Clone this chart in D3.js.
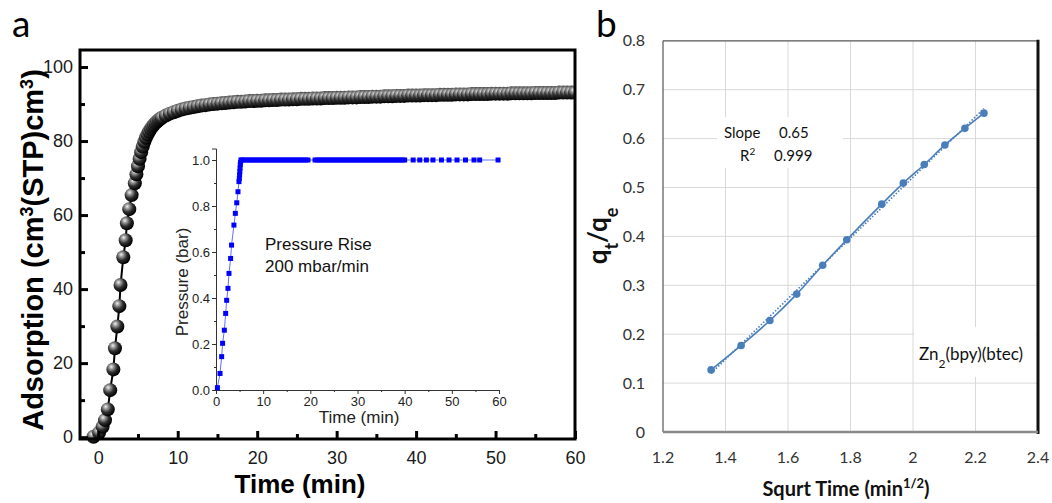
<!DOCTYPE html>
<html>
<head>
<meta charset="utf-8">
<script src="https://cdn.jsdelivr.net/npm/d3@7"></script>
<style>
  body { margin: 0; background: #fff; }
  svg { display: block; }
</style>
</head>
<body>
<svg width="1052" height="503"></svg>
<script>
// ---- panel a: adsorption kinetics (time in min, cm3(STP)/cm3)
const adsTime = [-0.6, 0.1, 0.55, 0.85, 1.2, 1.5, 1.9, 2.1, 2.4, 2.65, 2.8, 3.15, 3.45, 3.6, 3.9, 4.2,
  4.6, 4.8, 5.0, 5.2, 5.4, 5.6, 5.8, 6.0, 6.2, 6.4, 6.6, 6.8, 7.0, 7.2, 7.4, 7.6, 7.8, 8.0,
  8.5, 9, 9.5, 10, 10.5, 11, 11.5, 12, 12.5, 13, 13.5, 14, 14.5, 15, 15.5, 16, 16.5, 17, 17.5, 18,
  18.5, 19, 19.5, 20, 20.5, 21, 21.5, 22, 22.5, 23, 23.5, 24, 24.5, 25, 25.5, 26, 26.5, 27, 27.5,
  28, 28.5, 29, 29.5, 30, 30.5, 31, 31.5, 32, 32.5, 33, 33.5, 34, 34.5, 35, 35.5, 36, 36.5, 37,
  37.5, 38, 38.5, 39, 39.5, 40, 40.5, 41, 41.5, 42, 42.5, 43, 43.5, 44, 44.5, 45, 45.5, 46, 46.5,
  47, 47.5, 48, 48.5, 49, 49.5, 50, 50.5, 51, 51.5, 52, 52.5, 53, 53.5, 54, 54.5, 55, 55.5, 56,
  56.5, 57, 57.5, 58, 58.5, 59, 59.5, 60];
const adsValue = [0.1, 1.2, 2.8, 4.6, 7.5, 12.7, 18.3, 24, 29.9, 35.4, 41.1, 48.6, 53.2, 57.8, 61.6, 65.4,
  68.6, 71.0, 73.2, 75.2, 77.0, 78.5, 79.8, 80.9, 81.8, 82.6, 83.3, 83.9, 84.4, 84.9, 85.3, 85.7, 86.0, 86.3,
  86.9, 87.4, 87.8, 88.2, 88.5, 88.8, 89.0, 89.2, 89.4, 89.6, 89.7, 89.9, 90.0, 90.1, 90.2, 90.3, 90.4, 90.5, 90.6, 90.6,
  90.7, 90.8, 90.8, 90.9, 90.9, 91.0, 91.0, 91.1, 91.1, 91.2, 91.2, 91.2, 91.3, 91.3, 91.4, 91.4, 91.4, 91.5, 91.5,
  91.5, 91.6, 91.6, 91.6, 91.7, 91.7, 91.7, 91.8, 91.8, 91.8, 91.9, 91.9, 91.9, 92.0, 92.0, 92.0, 92.1, 92.1, 92.1,
  92.2, 92.2, 92.2, 92.3, 92.3, 92.3, 92.3, 92.4, 92.4, 92.4, 92.4, 92.5, 92.5, 92.5, 92.5, 92.6, 92.6, 92.6, 92.6,
  92.7, 92.7, 92.7, 92.7, 92.7, 92.8, 92.8, 92.8, 92.8, 92.8, 92.9, 92.9, 92.9, 92.9, 92.9, 92.9, 93.0, 93.0, 93.0,
  93.0, 93.0, 93.0, 93.1, 93.1, 93.1, 93.1, 93.1];
const adsXTicks = [0, 10, 20, 30, 40, 50, 60];
const adsYTicks = [0, 20, 40, 60, 80, 100];

// inset: pressure ramp
const pressTime = [0.3, 0.85, 1.2, 1.4, 1.77, 2.05, 2.26, 2.54, 2.75, 3.1, 3.3, 3.8, 4.1, 4.4, 4.66, 4.87,
  4.95, 5.0, 5.05, 5.1, 5.15, 5.2, 5.3];
const pressValue = [0.01, 0.072, 0.145, 0.203, 0.26, 0.333, 0.39, 0.442, 0.507, 0.572, 0.63, 0.717, 0.768,
  0.814, 0.862, 0.906, 0.92, 0.935, 0.95, 0.965, 0.98, 0.99, 1.0];
const plateauTime = [5.5, 6, 6.5, 7, 7.5, 8, 8.5, 9, 9.5, 10, 10.5, 11, 11.5, 12, 12.5, 13, 13.5, 14, 14.5,
  15, 15.5, 16, 16.5, 17, 17.5, 18, 18.5, 19, 19.5, 21, 21.5, 22, 22.5, 23, 23.5, 24, 24.5, 25, 25.5, 26,
  26.5, 27, 27.5, 28, 28.5, 29, 29.5, 30, 30.5, 31, 31.5, 32, 32.5, 33, 33.5, 34, 34.5, 35, 35.5, 36, 36.5,
  37, 37.5, 38, 38.5, 39, 39.5, 40.0, 41.8, 43.2, 44.6, 46.0, 47.8, 49.4, 51.1, 52.9, 54.7, 55.9, 59.8];
const plateauPressure = 1.0;
const insetXTicks = [0, 10, 20, 30, 40, 50, 60];
const insetYTicks = [0, 0.2, 0.4, 0.6, 0.8, 1.0];

// ---- panel b: qt/qe vs sqrt(time)
const sqrtTime = [1.354, 1.450, 1.542, 1.628, 1.711, 1.788, 1.900, 1.969, 2.036, 2.102, 2.166, 2.227];
const qRatio = [0.127, 0.177, 0.228, 0.282, 0.341, 0.393, 0.466, 0.509, 0.547, 0.587, 0.621, 0.652];
const bXTicks = [1.2, 1.4, 1.6, 1.8, 2.0, 2.2, 2.4];
const bYTicks = [0, 0.1, 0.2, 0.3, 0.4, 0.5, 0.6, 0.7, 0.8];

const svg = d3.select('svg');
const arial = '"Liberation Sans", Arial, sans-serif';
const calib = 'Lato, "Open Sans", sans-serif';

const defs = svg.append('defs');
const grad = defs.append('radialGradient').attr('id', 'ball')
  .attr('cx', 0.38).attr('cy', 0.35).attr('r', 0.65).attr('fx', 0.35).attr('fy', 0.3);
grad.append('stop').attr('offset', '0%').attr('stop-color', '#f2f2f2');
grad.append('stop').attr('offset', '25%').attr('stop-color', '#9a9a9a');
grad.append('stop').attr('offset', '60%').attr('stop-color', '#2e2e2e');
grad.append('stop').attr('offset', '100%').attr('stop-color', '#000');
defs.append('clipPath').attr('id', 'clipA')
  .append('rect').attr('x', 0).attr('y', 0).attr('width', 575).attr('height', 503);

// panel labels
svg.append('text').attr('x', 12).attr('y', 37).style('font', '37px ' + calib).text('a');
svg.append('text').attr('x', 596).attr('y', 37).style('font', '37px ' + calib).text('b');

// ================= panel a =================
const xA = d3.scaleLinear().domain([-2.3, 60]).range([80, 575]);
const yA = d3.scaleLinear().domain([-0.5, 104.6]).range([439, 50]);
const gA = svg.append('g');

const adsData = adsTime.map((t, i) => ({ t, v: adsValue[i] }));
const plot = gA.append('g').attr('clip-path', 'url(#clipA)');
plot.append('path')
  .datum(adsData)
  .attr('fill', 'none')
  .attr('stroke', '#000')
  .attr('stroke-width', 2)
  .attr('d', d3.line().x(d => xA(d.t)).y(d => yA(d.v)));
plot.selectAll('circle.ball')
  .data(adsData)
  .join('circle')
  .attr('class', 'ball')
  .attr('cx', d => xA(d.t))
  .attr('cy', d => yA(d.v))
  .attr('r', 7)
  .attr('fill', 'url(#ball)');

// frame
gA.append('rect').attr('x', 80).attr('y', 50).attr('width', 495).attr('height', 389)
  .attr('fill', 'none').attr('stroke', '#000').attr('stroke-width', 3);

function styleAxis(g, size) {
  g.select('.domain').remove();
  g.selectAll('.tick line').attr('stroke', '#000').attr('stroke-width', 3);
  g.selectAll('.tick text').style('font', size + 'px ' + arial).attr('fill', '#1a1a1a');
}

gA.append('g').attr('transform', 'translate(0,439)')
  .call(d3.axisBottom(xA).tickValues(adsXTicks).tickSizeInner(-8).tickSizeOuter(0).tickPadding(12))
  .call(g => styleAxis(g, 18));
gA.append('g').attr('transform', 'translate(0,439)')
  .call(d3.axisBottom(xA).tickValues([5, 15, 25, 35, 45, 55]).tickSizeInner(-5).tickSizeOuter(0).tickFormat(''))
  .call(g => styleAxis(g, 18));
gA.append('g').attr('transform', 'translate(80,0)')
  .call(d3.axisLeft(yA).tickValues(adsYTicks).tickSizeInner(-8).tickSizeOuter(0).tickPadding(7))
  .call(g => styleAxis(g, 18));
gA.append('g').attr('transform', 'translate(80,0)')
  .call(d3.axisLeft(yA).tickValues([10, 30, 50, 70, 90]).tickSizeInner(-5).tickSizeOuter(0).tickFormat(''))
  .call(g => styleAxis(g, 18));

gA.append('text').attr('x', 300).attr('y', 493).attr('text-anchor', 'middle')
  .style('font', 'bold 26px ' + arial).attr('fill', '#000').text('Time (min)');
const yTitle = gA.append('text')
  .attr('transform', 'translate(43,250) rotate(-90)')
  .attr('text-anchor', 'middle')
  .style('font', 'bold 29px ' + arial).attr('fill', '#000');
yTitle.append('tspan').text('Adsorption (cm');
yTitle.append('tspan').attr('baseline-shift', 'super').style('font-size', '18px').text('3');
yTitle.append('tspan').text('(STP)cm');
yTitle.append('tspan').attr('baseline-shift', 'super').style('font-size', '18px').text('3');
yTitle.append('tspan').text(')');

// ---- inset
const xI = d3.scaleLinear().domain([0, 60]).range([216, 499]);
const yI = d3.scaleLinear().domain([0, 1.05]).range([390, 148.5]);
const gI = svg.append('g');

function styleInset(g) {
  g.select('.domain').attr('stroke', '#333').attr('stroke-width', 1);
  g.selectAll('.tick line').attr('stroke', '#333').attr('stroke-width', 1);
  g.selectAll('.tick text').style('font', '13px ' + arial).attr('fill', '#222');
}
gI.append('g').attr('transform', 'translate(0,390)')
  .call(d3.axisBottom(xI).tickValues(insetXTicks).tickSize(4).tickPadding(3))
  .call(styleInset);
gI.append('g').attr('transform', 'translate(0,390)')
  .call(d3.axisBottom(xI).tickValues([5, 15, 25, 35, 45, 55]).tickSize(2).tickFormat(''))
  .call(styleInset).call(g => g.select('.domain').remove());
gI.append('g').attr('transform', 'translate(216,0)')
  .call(d3.axisLeft(yI).tickValues(insetYTicks).tickSize(4).tickPadding(2).tickFormat(d3.format('.1f')))
  .call(styleInset);
gI.append('g').attr('transform', 'translate(216,0)')
  .call(d3.axisLeft(yI).tickValues([0.1, 0.3, 0.5, 0.7, 0.9]).tickSize(2).tickFormat(''))
  .call(styleInset).call(g => g.select('.domain').remove());

const pressData = pressTime.map((t, i) => ({ t, p: pressValue[i] }))
  .concat(plateauTime.map(t => ({ t, p: plateauPressure })));
gI.append('path').datum(pressData)
  .attr('fill', 'none').attr('stroke', '#6070ff').attr('stroke-width', 1)
  .attr('d', d3.line().x(d => xI(d.t)).y(d => yI(d.p)));
gI.selectAll('rect.sq').data(pressData).join('rect')
  .attr('class', 'sq')
  .attr('x', d => xI(d.t) - 2.5).attr('y', d => yI(d.p) - 2.5)
  .attr('width', 5).attr('height', 5).attr('fill', '#0000ff');

gI.append('text').attr('x', 359).attr('y', 423).attr('text-anchor', 'middle')
  .style('font', '17px ' + arial).attr('fill', '#222').text('Time (min)');
gI.append('text').attr('transform', 'translate(188,282) rotate(-90)').attr('text-anchor', 'middle')
  .style('font', '17px ' + arial).attr('fill', '#222').text('Pressure (bar)');
gI.append('text').attr('x', 265).attr('y', 250)
  .style('font', '17px ' + arial).attr('fill', '#111').text('Pressure Rise');
gI.append('text').attr('x', 265).attr('y', 272)
  .style('font', '17px ' + arial).attr('fill', '#111').text('200 mbar/min');

// ================= panel b =================
const xB = d3.scaleLinear().domain([1.2, 2.4]).range([663, 1038]);
const yB = d3.scaleLinear().domain([0, 0.8]).range([432, 40.8]);
const gB = svg.append('g');

gB.append('g').selectAll('line.vg').data(bXTicks.slice(1, -1)).join('line')
  .attr('x1', d => xB(d)).attr('x2', d => xB(d)).attr('y1', yB(0.8)).attr('y2', yB(0))
  .attr('stroke', '#d9d9d9').attr('stroke-width', 1);
gB.append('g').selectAll('line.hg').data(bYTicks.slice(1, -1)).join('line')
  .attr('x1', xB(1.2)).attr('x2', xB(2.4)).attr('y1', d => yB(d)).attr('y2', d => yB(d))
  .attr('stroke', '#d9d9d9').attr('stroke-width', 1);

// plot-area border
gB.append('line').attr('x1', xB(1.2)).attr('x2', xB(2.4)).attr('y1', yB(0.8)).attr('y2', yB(0.8))
  .attr('stroke', '#555').attr('stroke-width', 1.2);
gB.append('line').attr('x1', xB(1.2)).attr('x2', xB(1.2)).attr('y1', yB(0.8)).attr('y2', yB(0))
  .attr('stroke', '#555').attr('stroke-width', 1.2);
gB.append('line').attr('x1', xB(2.4)).attr('x2', xB(2.4)).attr('y1', yB(0.8) - 1).attr('y2', yB(0) + 2)
  .attr('stroke', '#111').attr('stroke-width', 3);

// white label boxes hiding grid
gB.append('rect').attr('x', 717).attr('y', 117).attr('width', 126).attr('height', 51).attr('fill', '#fff');
gB.append('rect').attr('x', 914).attr('y', 327).attr('width', 122).attr('height', 50).attr('fill', '#fff');

gB.append('line').attr('x1', xB(1.2)).attr('x2', xB(2.4)).attr('y1', yB(0)).attr('y2', yB(0))
  .attr('stroke', '#8a8a8a').attr('stroke-width', 2.5);

const bData = sqrtTime.map((x, i) => ({ x, y: qRatio[i] }));
// linear trendline (least squares)
const mx = d3.mean(sqrtTime), my = d3.mean(qRatio);
const slope = d3.sum(bData, d => (d.x - mx) * (d.y - my)) / d3.sum(bData, d => (d.x - mx) ** 2);
const icpt = my - slope * mx;
const tx = d3.extent(sqrtTime);
gB.append('line')
  .attr('x1', xB(tx[0])).attr('y1', yB(icpt + slope * tx[0]))
  .attr('x2', xB(tx[1])).attr('y2', yB(icpt + slope * tx[1]))
  .attr('stroke', '#4a7ebb').attr('stroke-width', 1.6).attr('stroke-dasharray', '1.5,1.8');
gB.append('path').datum(bData)
  .attr('fill', 'none').attr('stroke', '#4a7ebb').attr('stroke-width', 1.6)
  .attr('d', d3.line().x(d => xB(d.x)).y(d => yB(d.y)).curve(d3.curveCatmullRom.alpha(0.5)));
gB.selectAll('circle.pt').data(bData).join('circle')
  .attr('class', 'pt')
  .attr('cx', d => xB(d.x)).attr('cy', d => yB(d.y)).attr('r', 3.8)
  .attr('fill', '#4a7ebb');

// tick labels
const fmtB = d => String(+d.toFixed(1));
gB.append('g').selectAll('text').data(bXTicks).join('text')
  .attr('x', d => xB(d)).attr('y', 463).attr('text-anchor', 'middle')
  .style('font', '16px ' + calib).attr('fill', '#333').text(fmtB);
gB.append('g').selectAll('text').data(bYTicks).join('text')
  .attr('x', 645).attr('y', d => yB(d)).attr('dy', '0.35em').attr('text-anchor', 'end')
  .style('font', '16px ' + calib).attr('fill', '#333').text(fmtB);

const bxt = gB.append('text').attr('x', 846).attr('y', 496).attr('text-anchor', 'middle')
  .style('font', 'bold 20px ' + calib).attr('fill', '#111');
bxt.append('tspan').text('Squrt Time (min');
bxt.append('tspan').attr('baseline-shift', 'super').style('font-size', '13px').text('1/2');
bxt.append('tspan').text(')');
const byt = gB.append('text').attr('transform', 'translate(607,236) rotate(-90)').attr('text-anchor', 'middle')
  .style('font', 'bold 26px ' + calib).attr('fill', '#111');
byt.append('tspan').text('q');
byt.append('tspan').attr('baseline-shift', 'sub').style('font-size', '18px').text('t');
byt.append('tspan').text('/q');
byt.append('tspan').attr('baseline-shift', 'sub').style('font-size', '18px').text('e');

// annotations
gB.append('text').attr('x', 724).attr('y', 138).style('font', '15px ' + calib).attr('fill', '#111').text('Slope');
gB.append('text').attr('x', 779).attr('y', 138).style('font', '15px ' + calib).attr('fill', '#111').text('0.65');
const r2 = gB.append('text').attr('x', 740).attr('y', 161).style('font', '15px ' + calib).attr('fill', '#111');
r2.append('tspan').text('R');
r2.append('tspan').attr('baseline-shift', 'super').style('font-size', '10px').text('2');
gB.append('text').attr('x', 774).attr('y', 161).style('font', '15px ' + calib).attr('fill', '#111').text('0.999');
const zn = gB.append('text').attr('x', 919).attr('y', 360).style('font', '17px ' + calib).attr('fill', '#111');
zn.append('tspan').text('Zn');
zn.append('tspan').attr('baseline-shift', 'sub').style('font-size', '12px').text('2');
zn.append('tspan').text('(bpy)(btec)');
</script>
</body>
</html>
